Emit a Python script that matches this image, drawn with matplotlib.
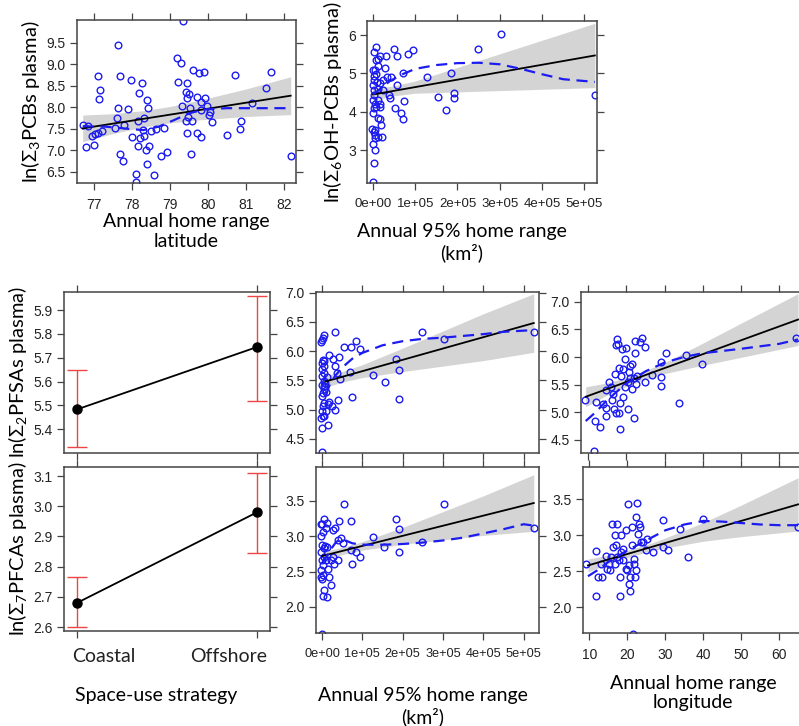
import numpy as np
import matplotlib
matplotlib.use("Agg")
import matplotlib.pyplot as plt
import matplotlib.transforms as mtransforms
from matplotlib.ticker import FormatStrFormatter

plt.rcParams["font.family"] = ["Liberation Sans", "DejaVu Sans"]
plt.rcParams["mathtext.fontset"] = "custom"
plt.rcParams["mathtext.rm"] = "Lato"
plt.rcParams["mathtext.it"] = "Lato:italic"

# ---- data ------------------------------------------------------------------
# (a) PCBs vs annual home range latitude
lat_x = [76.70, 76.79, 76.84, 76.94, 77.00, 77.03, 77.10, 77.10, 77.14, 77.16, 77.20, 77.55,
         77.61, 77.63, 77.64, 77.67, 77.68, 77.77, 77.79, 77.90, 77.96, 77.99, 78.11, 78.11,
         78.17, 78.17, 78.19, 78.21, 78.25, 78.28, 78.31, 78.31, 78.36, 78.39, 78.39, 78.42,
         78.46, 78.51, 78.59, 78.63, 78.76, 78.84, 78.91, 79.18, 79.21, 79.29, 79.32, 79.33,
         79.42, 79.42, 79.44, 79.45, 79.46, 79.47, 79.50, 79.53, 79.55, 79.59, 79.61, 79.70,
         79.72, 79.76, 79.82, 79.83, 79.83, 79.90, 79.91, 79.98, 80.02, 80.05, 80.10, 80.49,
         80.70, 80.84, 80.86, 81.15, 81.53, 81.67, 82.18]
pcb_y = [7.59, 7.07, 7.57, 7.34, 7.13, 7.37, 8.73, 7.40, 8.19, 8.40, 7.44, 7.53,
         7.74, 9.45, 7.99, 6.91, 8.73, 6.74, 7.59, 7.95, 8.63, 7.30, 6.45, 6.27,
         7.69, 7.09, 8.34, 7.28, 8.57, 7.47, 7.74, 7.33, 7.01, 8.17, 6.68, 7.99,
         7.10, 7.45, 6.43, 7.49, 6.87, 7.53, 6.97, 9.14, 8.60, 9.02, 8.02, 10.0,
         8.36, 7.67, 8.57, 8.21, 7.41, 7.78, 8.31, 7.98, 6.92, 7.67, 8.87, 7.40,
         8.25, 8.79, 8.13, 7.30, 7.94, 8.83, 8.21, 8.02, 7.82, 7.90, 7.65, 7.36,
         8.75, 7.50, 7.69, 8.09, 8.46, 8.83, 6.87]
pcb_fit = ([76.7, 82.18], [7.51, 8.27])
pcb_band = ([76.7, 77.5, 78.3, 79.0, 79.8, 81.0, 82.18], [0.31, 0.23, 0.19, 0.19, 0.23, 0.32, 0.44])
pcb_smooth = ([76.7, 77.3, 77.9, 78.3, 78.7, 79.1, 79.5, 79.9, 80.5, 81.3, 82.18],
              [7.56, 7.55, 7.50, 7.47, 7.55, 7.70, 7.86, 7.95, 7.98, 7.98, 7.98])

# (b) OH-PCBs vs annual 95% home range (x in units of 1e5 km2)
hr_b_x = [0.0, 0.02, 0.04, 0.0, 0.04, 0.055, 0.02, -0.015, 0.055, 0.11, 0.0, 0.02, 0.055,
          0.0, 0.02, 0.03, 0.0, 0.03, 0.02, 0.055, 0.0, 0.02, 0.08, 0.08, 0.13, 0.09, 0.11,
          0.08, 0.11, 0.13, 0.16, 0.17, 0.19, 0.21, 0.16, 0.17, 0.315, 0.29, 0.33, 0.37,
          0.41, 0.43, 0.49, 0.53, 0.57, 0.58, 0.66, 0.72, 0.71, 0.74, 0.84, 0.94, 1.28,
          1.54, 1.72, 1.84, 1.91, 1.91, 2.48, 3.02, 5.25, 0.08, 0.11, 0.17, 0.24, 0.25]
ohpcb_y = [2.17, 2.67, 3.00, 3.17, 3.32, 3.39, 3.48, 3.54, 3.52, 3.33, 3.96, 4.09, 4.20,
           4.30, 4.43, 4.57, 4.70, 4.83, 4.93, 5.09, 5.09, 5.57, 5.68, 5.35, 5.39, 4.79, 4.59,
           4.13, 4.30, 3.83, 4.13, 4.20, 3.65, 3.35, 3.80, 5.45, 5.45, 5.13, 4.91, 4.43,
           4.37, 4.91, 5.65, 4.09, 5.45, 4.70, 3.98, 5.00, 3.80, 4.28, 5.50, 5.61, 4.91,
           4.39, 4.04, 5.01, 4.48, 4.37, 5.65, 6.02, 4.43, 4.98, 5.20, 4.74, 4.57, 4.83]
ohpcb_fit = ([0.0, 5.25], [4.45, 5.47])
ohpcb_band = ([0.0, 0.5, 1.0, 2.0, 3.0, 4.0, 5.25], [0.15, 0.13, 0.16, 0.32, 0.48, 0.64, 0.84])
ohpcb_smooth = ([0.0, 0.2, 0.4, 0.7, 1.0, 1.5, 2.0, 2.5, 3.0, 3.5, 4.0, 4.5, 5.25],
                [4.45, 4.62, 4.80, 4.98, 5.12, 5.22, 5.27, 5.28, 5.24, 5.12, 4.98, 4.85, 4.78])

# (c, d) space-use strategy effects
strategy = ["Coastal", "Offshore"]
pfsa_mean = [5.483, 5.745]
pfsa_lo = [5.325, 5.520]
pfsa_hi = [5.648, 5.960]
pfca_mean = [2.680, 2.980]
pfca_lo = [2.600, 2.845]
pfca_hi = [2.765, 3.110]

# (e) PFSAs vs annual 95% home range
hr_e_x = [0.0, 0.0, -0.02, 0.025, 0.06, 0.10, 0.0, 0.025, 0.04, 0.0, 0.025, 0.06, 0.0, 0.04,
          0.0, 0.04, 0.0, 0.06, 0.0, 0.025, 0.06, -0.02, 0.025, 0.06, 0.0, 0.14, 0.15, 0.18,
          0.17, 0.26, 0.31, 0.31, 0.25, 0.33, 0.36, 0.41, 0.40, 0.45, 0.54, 0.70, 0.72, 0.74,
          0.84, 0.93, 1.26, 1.55, 1.84, 1.91, 1.91, 2.48, 3.02, 5.25, 0.08, 0.10, 0.12, 0.05]
pfsa_e_y = [4.28, 4.68, 4.85, 4.89, 4.90, 4.98, 4.98, 5.06, 5.12, 5.23, 5.29, 5.35, 5.43, 5.49,
            5.57, 5.63, 5.69, 5.74, 5.80, 5.85, 5.83, 6.15, 6.23, 6.27, 6.19, 4.74, 5.09, 5.13,
            5.94, 5.86, 6.32, 5.00, 5.06, 5.74, 5.63, 5.90, 5.16, 5.52, 6.07, 5.64, 6.07, 5.22,
            6.17, 6.04, 5.59, 5.47, 5.87, 5.67, 5.18, 6.33, 6.20, 6.33, 5.45, 5.30, 5.55, 5.40]
pfsa_e_fit = ([0.08, 5.25], [5.48, 6.48])
pfsa_e_band = ([0.08, 0.5, 1.0, 2.0, 3.0, 4.0, 5.25], [0.10, 0.09, 0.11, 0.20, 0.30, 0.40, 0.50])
pfsa_e_smooth = ([0.1, 0.2, 0.35, 0.5, 0.75, 1.0, 1.5, 2.0, 2.5, 3.0, 3.5, 4.0, 4.5, 5.25],
                 [5.25, 5.45, 5.60, 5.72, 5.87, 5.97, 6.10, 6.17, 6.21, 6.23, 6.26, 6.29, 6.33, 6.36])

# (f) PFCAs vs annual 95% home range
hr_f_x = [0.0, -0.02, 0.0, 0.025, 0.04, 0.025, 0.12, 0.23, 0.17, -0.02, 0.025, 0.01, 0.04,
          -0.02, 0.04, 0.01, 0.07, 0.12, -0.02, 0.025, 0.11, -0.02, 0.04, 0.01, 0.12, 0.09,
          0.15, 0.21, 0.26, 0.27, 0.33, 0.30, 0.40, 0.42, 0.40, 0.48, 0.52, 0.55, 0.71, 0.73,
          0.75, 0.83, 0.93, 1.26, 1.54, 1.83, 1.91, 1.91, 2.48, 3.02, 5.25]
pfca_f_y = [1.62, 2.42, 2.39, 2.45, 2.24, 2.15, 2.14, 2.31, 2.42, 2.52, 2.59, 2.66, 2.71,
            2.78, 2.83, 2.87, 2.86, 2.85, 3.01, 3.06, 3.11, 3.17, 3.25, 3.18, 3.19, 2.66,
            2.54, 2.66, 2.71, 3.09, 3.11, 2.61, 2.66, 3.22, 2.94, 2.97, 2.90, 3.45, 3.22, 2.81,
            2.60, 2.78, 2.70, 2.99, 2.85, 3.24, 3.10, 2.77, 2.92, 3.45, 3.12]
pfca_f_fit = ([0.0, 5.25], [2.72, 3.47])
pfca_f_band = ([0.0, 0.5, 1.0, 2.0, 3.0, 4.0, 5.25], [0.06, 0.05, 0.06, 0.12, 0.20, 0.28, 0.40])
pfca_f_smooth = ([0.0, 0.1, 0.2, 0.35, 0.5, 0.75, 1.0, 1.5, 2.0, 2.5, 3.0, 3.5, 4.0, 4.5, 5.0, 5.25],
                 [2.62, 2.70, 2.80, 2.92, 2.96, 2.90, 2.88, 2.88, 2.89, 2.91, 2.94, 2.98, 3.04, 3.10, 3.17, 3.15])

# (g) PFSAs vs annual home range longitude
lon_g_x = [9.13, 11.57, 11.74, 12.17, 13.2, 14.6, 14.8, 14.8, 15.5, 16.1, 16.3, 16.5, 16.7,
           16.96, 17.2, 17.6, 17.2, 17.8, 18.1, 18.3, 18.3, 18.1, 18.7, 19.0, 19.1, 19.1,
           19.6, 19.8, 20.0, 20.4, 20.4, 20.7, 20.9, 21.0, 21.6, 21.6, 21.9, 21.9, 22.2, 22.4,
           22.6, 22.8, 23.5, 24.2, 24.9, 25.0, 26.6, 29.0, 29.0, 29.1, 30.4, 33.7, 35.7, 39.8,
           64.5, 13.9]
pfsa_g_y = [5.23, 4.29, 4.84, 5.19, 4.74, 5.40, 4.93, 5.08, 5.54, 5.45, 5.23, 5.33, 5.05,
            5.69, 4.98, 6.33, 6.21, 6.23, 5.81, 5.16, 4.69, 4.98, 5.66, 6.14, 5.79, 5.28,
            5.96, 5.45, 6.17, 5.05, 5.54, 5.73, 5.84, 5.62, 5.88, 5.42, 4.90, 5.62, 6.29, 6.08,
            5.51, 5.66, 6.27, 6.35, 6.19, 5.54, 5.67, 5.91, 5.63, 5.48, 6.08, 5.17, 6.04, 5.88,
            6.34, 5.14]
pfsa_g_fit = ([9.4, 64.9], [5.28, 6.68])
pfsa_g_band = ([9.4, 15, 20, 25, 30, 40, 50, 64.9], [0.18, 0.11, 0.08, 0.08, 0.10, 0.20, 0.31, 0.47])
pfsa_g_smooth = ([9.4, 12, 15, 20, 25, 30, 35, 40, 50, 60, 64.9],
                 [4.84, 5.00, 5.22, 5.52, 5.74, 5.90, 6.00, 6.07, 6.15, 6.24, 6.32])

# (h) PFCAs vs annual home range longitude
lon_h_x = [9.12, 11.6, 11.8, 12.2, 13.3, 13.1, 14.4, 14.6, 15.1, 15.4, 15.7, 16.0, 16.1, 16.6,
           16.8, 17.2, 17.0, 17.2, 17.7, 18.1, 18.1, 18.3, 18.3, 18.8, 18.9, 19.5, 19.5, 19.8,
           20.1, 20.4, 20.5, 20.7, 20.7, 21.2, 21.2, 21.4, 21.6, 21.8, 22.1, 22.3, 22.5, 22.3,
           22.7, 23.0, 23.2, 23.6, 24.0, 24.9, 25.1, 26.7, 29.3, 29.3, 30.6, 33.9, 35.9, 40.0, 64.9]
pfca_h_y = [2.60, 2.78, 2.16, 2.42, 2.42, 2.60, 2.71, 2.53, 2.60, 2.51, 2.70, 3.15, 2.84, 3.00,
            2.60, 3.15, 2.86, 2.70, 2.65, 2.42, 2.16, 3.00, 2.77, 2.65, 2.81, 3.07, 2.53, 2.51,
            3.43, 2.32, 2.58, 2.22, 2.42, 2.86, 3.12, 1.62, 2.67, 2.60, 2.42, 2.52, 3.45, 3.25,
            3.02, 3.16, 3.12, 2.91, 2.91, 2.79, 2.95, 2.77, 3.21, 2.84, 2.80, 3.09, 2.70, 3.23, 3.11]
pfca_h_fit = ([9.6, 64.9], [2.58, 3.43])
pfca_h_band = ([9.6, 15, 20, 25, 30, 40, 50, 64.9], [0.09, 0.06, 0.05, 0.05, 0.07, 0.13, 0.22, 0.37])
pfca_h_smooth = ([9.6, 12, 15, 20, 25, 30, 35, 40, 45, 50, 55, 60, 64.9],
                 [2.43, 2.51, 2.63, 2.79, 2.93, 3.07, 3.15, 3.20, 3.19, 3.17, 3.15, 3.14, 3.14])

hr_ticks = [0, 1, 2, 3, 4, 5]
hr_ticklabels = ["0e+00", "1e+05", "2e+05", "3e+05", "4e+05", "5e+05"]

# ---- drawing ----------------------------------------------------------------
W, H = 799, 726
LBL = dict(family=["Lato", "DejaVu Sans"], fontsize=14)
YLBL = dict(family=["Lato", "DejaVu Sans"], fontsize=14.5)
BLUE = "#1c1cf0"
FRAME = "#444444"


def box(l, t, r, b):
    return [l / W, 1 - b / H, (r - l) / W, (b - t) / H]


def style(ax, xticks, yticks, xlim, ylim, show_x=True):
    ax.set_xlim(xlim)
    ax.set_ylim(ylim)
    ax.set_xticks(xticks)
    ax.set_yticks(yticks)
    for s in ax.spines.values():
        s.set_color(FRAME)
        s.set_linewidth(1.1)
    ax.tick_params(direction="out", length=5, width=0.9, color=FRAME,
                   top=True, right=True, labelsize=10, labelcolor="#222222")
    ax.tick_params(axis="x", pad=6)
    ax.tick_params(axis="y", pad=3)
    ax.yaxis.set_major_formatter(FormatStrFormatter("%.1f"))
    if not show_x:
        ax.tick_params(axis="x", labelbottom=False)


def scatter_panel(ax, x, y, fit, band, smooth, xs=1.0):
    bx = np.asarray(band[0])
    line = np.interp(bx, fit[0], fit[1])
    hw = np.asarray(band[1])
    ax.fill_between(bx * xs, line - hw, line + hw, color="#d4d4d4", lw=0, zorder=1)
    ax.plot(np.asarray(x) * xs, y, "o", mfc="none", mec=BLUE, ms=4.8, mew=1.0, zorder=2)
    ax.plot(np.asarray(fit[0]) * xs, fit[1], color="black", lw=1.3, zorder=3)
    ax.plot(np.asarray(smooth[0]) * xs, smooth[1], color=BLUE, lw=1.6,
            dashes=(5, 3), zorder=4)


def effect_panel(ax, mean, lo, hi):
    pos = np.arange(len(mean))
    ax.errorbar(pos, mean, yerr=[np.subtract(mean, lo), np.subtract(hi, mean)], fmt="none",
                ecolor="#ee4444", elinewidth=1.0, capsize=7, capthick=1.0, zorder=2)
    ax.plot(pos, mean, "-o", color="black", lw=1.3, ms=6.5, zorder=3)


def xlabel(ax, text, x, y):
    ax.set_xlabel(text, linespacing=1.2, **LBL)
    ax.xaxis.set_label_coords(x, y)


fig = plt.figure(figsize=(W / 100, H / 100), dpi=100)

# (a)
ax = fig.add_axes(box(77, 20, 296, 183))
scatter_panel(ax, lat_x, pcb_y, pcb_fit, pcb_band, pcb_smooth)
style(ax, [77, 78, 79, 80, 81, 82], np.arange(6.5, 9.51, 0.5), (76.55, 82.32), (6.24, 10.03))
xlabel(ax, "Annual home range\nlatitude", 0.5, -0.185)
ax.set_ylabel("ln(Σ$_3$PCBs plasma)", labelpad=3, **YLBL)

# (b)
ax = fig.add_axes(box(367, 21, 597, 183))
scatter_panel(ax, hr_b_x, ohpcb_y, ohpcb_fit, ohpcb_band, ohpcb_smooth, xs=1e5)
style(ax, np.array(hr_ticks) * 1e5, [3, 4, 5, 6], (-0.14e5, 5.3e5), (2.14, 6.37))
ax.yaxis.set_major_formatter(FormatStrFormatter("%d"))
ax.set_xticklabels(hr_ticklabels, fontsize=9.5)
xlabel(ax, "Annual 95% home range\n(km²)", 0.413, -0.245)
ax.set_ylabel("ln(Σ$_6$OH-PCBs plasma)", labelpad=3, **YLBL)

# (c)
ax = fig.add_axes(box(64, 292, 270, 453))
effect_panel(ax, pfsa_mean, pfsa_lo, pfsa_hi)
style(ax, [0, 1], np.arange(5.4, 5.91, 0.1), (-0.072, 1.072), (5.30, 5.976), show_x=False)
ax.set_ylabel("ln(Σ$_2$PFSAs plasma)", labelpad=3, **YLBL)

# (d)
ax = fig.add_axes(box(64, 467, 270, 631))
effect_panel(ax, pfca_mean, pfca_lo, pfca_hi)
style(ax, [0, 1], np.arange(2.6, 3.11, 0.1), (-0.072, 1.072), (2.587, 3.13))
ax.set_xticklabels(strategy, **LBL)
ax.tick_params(axis="x", pad=7)
shifts = [(-5, "left"), (10, "right")]
for lab, (dx, ha) in zip(ax.get_xticklabels(), shifts):
    lab.set_ha(ha)
    lab.set_transform(lab.get_transform() +
                      mtransforms.ScaledTranslation(dx / 100, 0, fig.dpi_scale_trans))
xlabel(ax, "Space-use strategy", 0.447, -0.34)
ax.set_ylabel("ln(Σ$_7$PFCAs plasma)", labelpad=3, **YLBL)

# (e)
ax = fig.add_axes(box(316, 292, 539, 453))
scatter_panel(ax, hr_e_x, pfsa_e_y, pfsa_e_fit, pfsa_e_band, pfsa_e_smooth, xs=1e5)
style(ax, np.array(hr_ticks) * 1e5, np.arange(4.5, 7.01, 0.5), (-0.15e5, 5.38e5), (4.26, 7.01),
      show_x=False)

# (f)
ax = fig.add_axes(box(316, 467, 539, 633))
scatter_panel(ax, hr_f_x, pfca_f_y, pfca_f_fit, pfca_f_band, pfca_f_smooth, xs=1e5)
style(ax, np.array(hr_ticks) * 1e5, np.arange(2.0, 3.51, 0.5), (-0.15e5, 5.38e5), (1.63, 3.98))
ax.set_xticklabels(hr_ticklabels, fontsize=9.2)
xlabel(ax, "Annual 95% home range\n(km²)", 0.48, -0.325)

# (g)
ax = fig.add_axes(box(581, 292, 803, 453))
scatter_panel(ax, lon_g_x, pfsa_g_y, pfsa_g_fit, pfsa_g_band, pfsa_g_smooth)
style(ax, [10, 20, 30, 40, 50, 60], np.arange(4.5, 7.01, 0.5), (8.17, 66.2), (4.26, 7.18),
      show_x=False)

# (h)
ax = fig.add_axes(box(583, 467, 803, 633))
scatter_panel(ax, lon_h_x, pfca_h_y, pfca_h_fit, pfca_h_band, pfca_h_smooth)
style(ax, [10, 20, 30, 40, 50, 60], np.arange(2.0, 3.51, 0.5), (8.3, 66.2), (1.64, 3.95))
xlabel(ax, "Annual home range\nlongitude", 0.5, -0.25)

fig.savefig("out.png", dpi=100)
